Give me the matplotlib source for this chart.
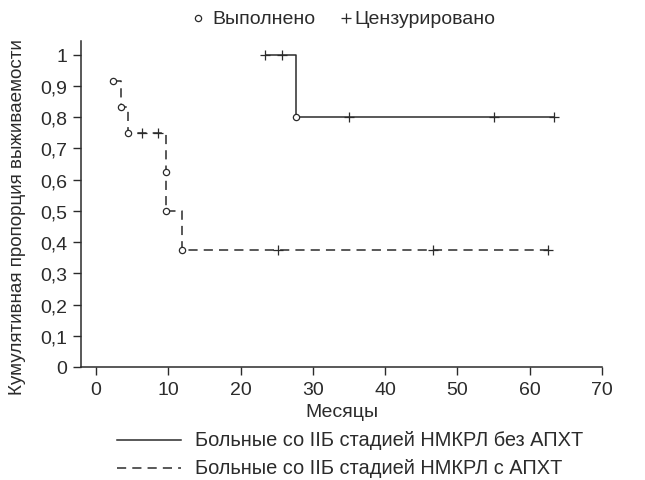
import matplotlib
matplotlib.use("Agg")
import matplotlib.pyplot as plt
from matplotlib.lines import Line2D

plt.rcParams['font.family'] = ['Liberation Sans', 'DejaVu Sans']

# Group without adjuvant chemo (solid)
solid_step_x = [23.3, 27.7, 27.7, 63.4]
solid_step_y = [1.0, 1.0, 0.8, 0.8]
solid_event_x = [27.7]
solid_event_y = [0.8]
solid_cens_x = [23.3, 25.7, 35.0, 55.1, 63.4]
solid_cens_y = [1.0, 1.0, 0.8, 0.8, 0.8]

# Group with adjuvant chemo (dashed)
dash_step_x = [2.3, 3.4, 3.4, 4.4, 4.4, 9.7, 9.7, 11.9, 11.9, 62.5]
dash_step_y = [0.917, 0.917, 0.833, 0.833, 0.75, 0.75, 0.5, 0.5, 0.375, 0.375]
dash_event_x = [2.3, 3.4, 4.4, 9.7, 9.7, 11.9]
dash_event_y = [0.917, 0.833, 0.75, 0.625, 0.5, 0.375]
dash_cens_x = [6.3, 8.6, 25.2, 46.6, 62.5]
dash_cens_y = [0.75, 0.75, 0.375, 0.375, 0.375]

x_ticks = [0, 10, 20, 30, 40, 50, 60, 70]
y_ticks = [0, 0.1, 0.2, 0.3, 0.4, 0.5, 0.6, 0.7, 0.8, 0.9, 1.0]
y_tick_labels = ['0', '0,1', '0,2', '0,3', '0,4', '0,5', '0,6', '0,7', '0,8', '0,9', '1']

C = '#2b2b2b'
FS = 14
W, H = 645, 481
fig = plt.figure(figsize=(W / 100, H / 100), dpi=100)
ax = fig.add_axes([81 / W, 1 - 368 / H, (602 - 81) / W, (368 - 41.7) / H])

ax.plot(solid_step_x, solid_step_y, color=C, lw=1.1, solid_capstyle='butt')
ax.plot(dash_step_x, dash_step_y, color=C, lw=1.1, dashes=(6, 4))
ax.plot(solid_cens_x, solid_cens_y, ls='none', marker='+', ms=7, mew=0.9, color=C)
ax.plot(dash_cens_x, dash_cens_y, ls='none', marker='+', ms=7, mew=0.9, color=C)
ax.plot(solid_event_x, solid_event_y, ls='none', marker='o', ms=4.5, mew=0.9,
        mfc='white', mec=C, zorder=5)
ax.plot(dash_event_x, dash_event_y, ls='none', marker='o', ms=4.5, mew=0.9,
        mfc='white', mec=C, zorder=5)

ax.set_xlim(-2.1, 70)
ax.set_ylim(0, 1.045)
ax.set_xticks(x_ticks)
ax.set_yticks(y_ticks)
ax.set_yticklabels(y_tick_labels)
for s in ['top', 'right']:
    ax.spines[s].set_visible(False)
for s in ['left', 'bottom']:
    ax.spines[s].set_color(C)
    ax.spines[s].set_linewidth(1.1)
ax.tick_params(direction='out', length=6, width=1.0, color=C, labelcolor=C,
               labelsize=FS, pad=4)
ax.set_xlabel('Месяцы', fontsize=FS, color=C, labelpad=4)
ax.set_ylabel('Кумулятивная пропорция выживаемости', fontsize=13.6, color=C)
ax.yaxis.set_label_coords(-0.106, 0.463)

# top legend
ty = 1 - 19 / H
fig.lines.append(Line2D([198 / W], [ty], marker='o', ms=4.5, mew=0.9,
                        mfc='white', mec=C, ls='none', transform=fig.transFigure))
fig.text(212 / W, ty, 'Выполнено', fontsize=FS, color=C, va='center', ha='left')
fig.lines.append(Line2D([346 / W], [ty], marker='+', ms=7, mew=0.9,
                        color=C, ls='none', transform=fig.transFigure))
fig.text(354 / W, ty, 'Цензурировано', fontsize=FS, color=C, va='center', ha='left')

# bottom legend
ry1 = 1 - 441 / H
ry2 = 1 - 469 / H
fig.lines.append(Line2D([117 / W, 181 / W], [ry1, ry1], color=C, lw=1.1,
                        transform=fig.transFigure))
fig.lines.append(Line2D([117 / W, 181 / W], [ry2, ry2], color=C, lw=1.1,
                        dashes=(6, 4), transform=fig.transFigure))
fig.text(195 / W, ry1, 'Больные со IIБ стадией НМКРЛ без АПХТ', fontsize=14.4,
         color=C, va='center', ha='left')
fig.text(195 / W, ry2, 'Больные со IIБ стадией НМКРЛ с АПХТ', fontsize=14.4,
         color=C, va='center', ha='left')

fig.savefig('out.png', dpi=100)
